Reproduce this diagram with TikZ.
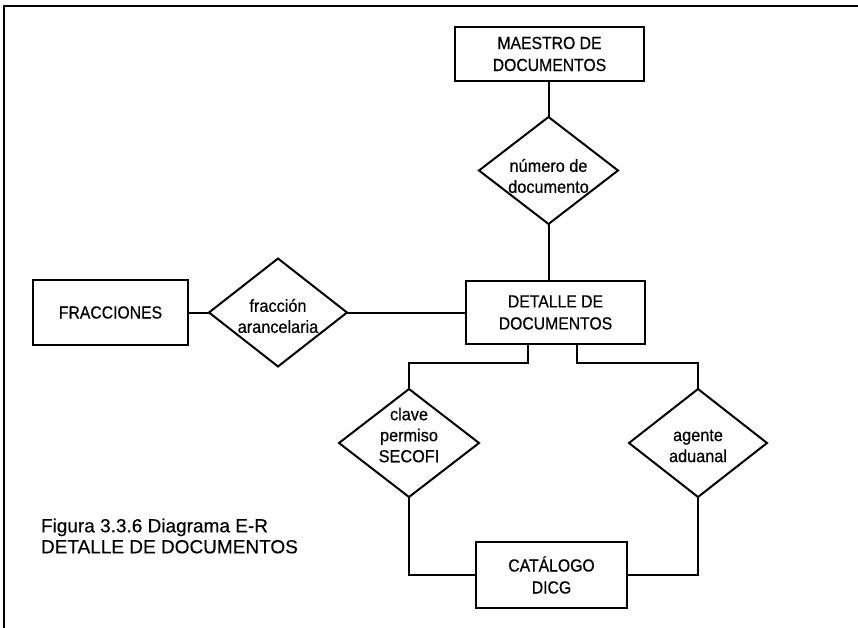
\documentclass[tikz,border=0pt]{standalone}
\usepackage{fontspec}
\setmainfont{Liberation Sans}[FakeBold=0.4]
\newfontfamily\boxfamily{Liberation Sans}[FakeStretch=0.9,FakeBold=0.5]
\newfontfamily\relfamily{Liberation Sans}[FakeStretch=0.93,FakeBold=0.5]
\usetikzlibrary{shapes.geometric}
\begin{document}
\begin{tikzpicture}[x=1pt,y=-1pt, line width=2pt,
  entity/.style={draw, rectangle, inner sep=0pt, outer sep=0pt,
    font=\boxfamily\fontsize{17.5}{22}\selectfont, align=center},
  rel/.style={draw, diamond, inner sep=0pt, outer sep=0pt},
  reltext/.style={font=\relfamily\fontsize{17.5}{21}\selectfont, align=center, inner sep=0pt},
  link/.style={line width=2pt}]
\useasboundingbox (0,0) rectangle (858,628);
% frame
\coordinate (ftl) at (4,6);
\coordinate (ftr) at (858,6);
\coordinate (fbl) at (4,628);
\draw[link] (ftr) -- (ftl) -- (fbl);
% entities
\node[entity, minimum width=189pt, minimum height=54pt] (maestro) at (549.5,54) {MAESTRO DE\\DOCUMENTOS};
\node[entity, minimum width=179pt, minimum height=63pt] (detalle) at (555.5,312.5) {DETALLE DE\\DOCUMENTOS};
\node[entity, minimum width=155pt, minimum height=65pt] (fracciones) at (110.5,312.5) {FRACCIONES};
\node[entity, minimum width=151pt, minimum height=66pt] (catalogo) at (551.5,575) {CATÁLOGO\\DICG};
% relationships
\node[rel, minimum width=139pt, minimum height=107pt] (num) at (548.5,170.5) {};
\node[reltext] (numt) at (548.5,176) {número de\\documento};
\node[rel, minimum width=138pt, minimum height=108pt] (frac) at (278,312.5) {};
\node[reltext] (fract) at (278,316) {fracción\\arancelaria};
\node[rel, minimum width=140pt, minimum height=108pt] (clave) at (409,443) {};
\node[reltext] (clavet) at (409,435) {clave\\permiso\\SECOFI};
\node[rel, minimum width=138pt, minimum height=108pt] (agente) at (698,443) {};
\node[reltext] (agentet) at (698,446) {agente\\aduanal};
% connectors
\draw[link] (maestro.south -| num.north) -- (num.north);
\draw[link] (num.south) -- (num.south |- detalle.north);
\draw[link] (fracciones.east) -- (frac.west);
\draw[link] (frac.east) -- (detalle.west);
\draw[link] ([xshift=62pt]detalle.south west) -- ++(0,19) -| (clave.north);
\draw[link] ([xshift=111pt]detalle.south west) -- ++(0,19) -| (agente.north);
\draw[link] (clave.south) |- (catalogo.west);
\draw[link] (agente.south) |- (catalogo.east);
% caption
\node[font=\fontsize{19}{21}\selectfont, align=left, anchor=west, inner sep=0pt] (cap) at (40,536) {Figura 3.3.6 Diagrama E-R\\DETALLE DE DOCUMENTOS};
\end{tikzpicture}
\end{document}
